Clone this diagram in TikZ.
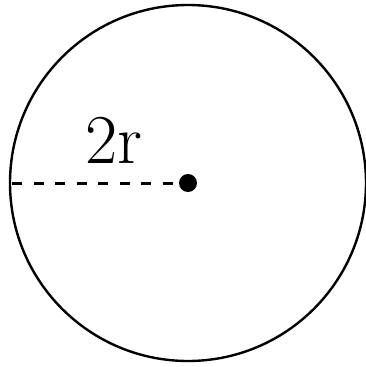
\documentclass[tikz,border=0pt]{standalone}
\usetikzlibrary{calc}
\tikzset{
  outline/.style={line width=2.4pt, black},
  radiusline/.style={line width=3pt, dash pattern=on 10pt off 11.5pt},
  centerdot/.style={circle, fill=black, inner sep=0pt, minimum size=18pt},
  lbl/.style={font=\fontsize{70}{70}\selectfont, inner sep=0pt}
}
\begin{document}
\begin{tikzpicture}[x=1pt,y=1pt]
\useasboundingbox (0,0) rectangle (365,-367);
\coordinate (c) at (188,-183);
\draw[outline] (c) circle (178);
\coordinate (l) at (12,-183);
\node[centerdot] (o) at (c) {};
\draw[radiusline] (l) -- (o.center);
\node[lbl, anchor=base] (t) at (114,-163) {2r};
\end{tikzpicture}
\end{document}
